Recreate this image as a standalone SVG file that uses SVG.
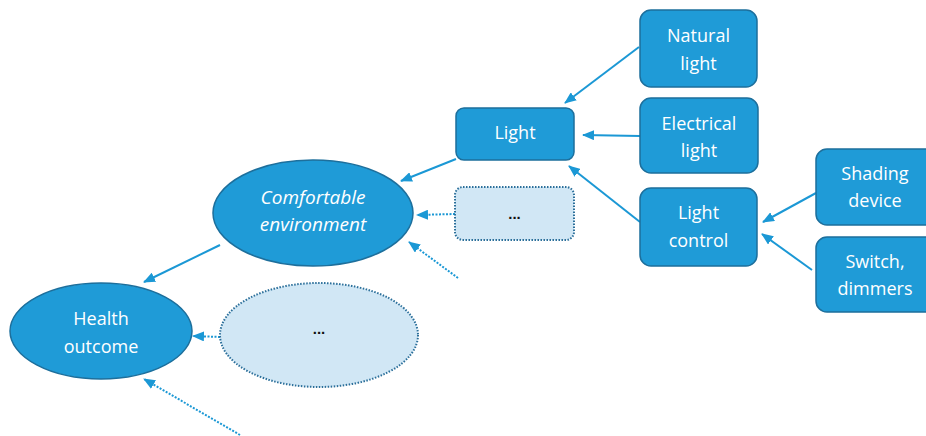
<svg xmlns="http://www.w3.org/2000/svg" width="926" height="436" viewBox="0 0 926 436">
<defs>
<marker id="ah" viewBox="0 0 12 10" refX="11" refY="5" markerWidth="12" markerHeight="10" orient="auto" markerUnits="userSpaceOnUse">
<path d="M0,0 L12,5 L0,10 z" fill="#1b98d5"/>
</marker>
<style>
.n{fill:#1f9bd7;stroke:#1d6f9c;stroke-width:1.5}
.d{fill:#d1e7f5;stroke:#2b6f9a;stroke-width:2;stroke-dasharray:1.5 1.5}
.t{fill:#ffffff;font-family:"Open Sans","Liberation Sans",sans-serif;font-size:18px;text-anchor:middle}
.i{font-style:italic;font-size:19px}
.k{fill:#111;font-family:"Liberation Sans",sans-serif;font-size:15px;font-weight:bold;text-anchor:middle}
.c{stroke:#1b98d5;stroke-width:2;fill:none;marker-end:url(#ah)}
.cd{stroke:#1b98d5;stroke-width:2;fill:none;stroke-dasharray:2 1.5;marker-end:url(#ah)}
</style>
</defs>
<g id="connectors">
<line class="c" x1="639" y1="47" x2="565" y2="103"/>
<line class="c" x1="640" y1="136" x2="583" y2="135"/>
<line class="c" x1="640" y1="222" x2="569" y2="166"/>
<line class="c" x1="456" y1="159" x2="401" y2="181"/>
<line class="cd" x1="455" y1="214" x2="417" y2="215"/>
<line class="cd" x1="458" y1="278" x2="409" y2="242"/>
<line class="c" x1="220" y1="245" x2="144" y2="282"/>
<line class="cd" x1="220" y1="337" x2="193" y2="336"/>
<line class="cd" x1="240" y1="435" x2="144" y2="379"/>
<line class="c" x1="816" y1="193" x2="763" y2="222"/>
<line class="c" x1="812" y1="270" x2="762" y2="234"/>
</g>
<g id="natural-light">
<rect class="n" x="640" y="10" width="117" height="77" rx="11"/>
<text class="t" x="698.5" y="42">Natural</text>
<text class="t" x="698.5" y="70">light</text>
</g>
<g id="electrical-light">
<rect class="n" x="640" y="98" width="118" height="75" rx="11"/>
<text class="t" x="699" y="130">Electrical</text>
<text class="t" x="699" y="157">light</text>
</g>
<g id="light">
<rect class="n" x="456" y="108" width="118" height="52" rx="8"/>
<text class="t" x="515" y="139">Light</text>
</g>
<g id="light-more">
<rect class="d" x="455" y="187" width="119" height="53" rx="8"/>
<text class="k" x="514.5" y="219">...</text>
</g>
<g id="light-control">
<rect class="n" x="640" y="188" width="117" height="78" rx="11"/>
<text class="t" x="698.5" y="219">Light</text>
<text class="t" x="698.5" y="247">control</text>
</g>
<g id="shading-device">
<rect class="n" x="816" y="149" width="120" height="76" rx="11"/>
<text class="t" x="875" y="180">Shading</text>
<text class="t" x="875" y="207">device</text>
</g>
<g id="switch-dimmers">
<rect class="n" x="816" y="237" width="120" height="75" rx="11"/>
<text class="t" x="875" y="268">Switch,</text>
<text class="t" x="875" y="295">dimmers</text>
</g>
<g id="comfortable-environment">
<ellipse class="n" cx="313" cy="213" rx="100" ry="53"/>
<text class="t i" x="313" y="204">Comfortable</text>
<text class="t i" x="313" y="231">environment</text>
</g>
<g id="environment-more">
<ellipse class="d" cx="319" cy="335" rx="99" ry="52"/>
<text class="k" x="319" y="334">...</text>
</g>
<g id="health-outcome">
<ellipse class="n" cx="101" cy="331" rx="91" ry="48"/>
<text class="t" x="101" y="325">Health</text>
<text class="t" x="101" y="353">outcome</text>
</g>
</svg>
